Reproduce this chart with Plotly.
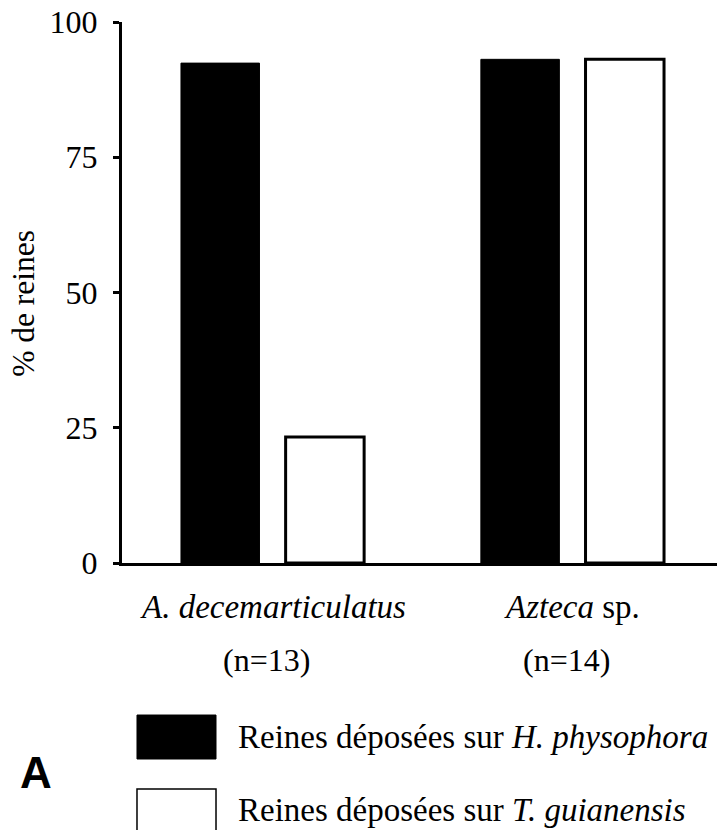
import plotly.graph_objects as go

# données
categories = ['A. decemarticulatus', 'Azteca sp.']
cat_labels = ['<i>A. decemarticulatus</i>', '<i>Azteca</i> sp.']
n_labels = ['(n=13)', '(n=14)']
h_physophora = [92.4, 93.1]
t_guianensis = [23.3, 93.1]
series_names = ['Reines déposées sur <i>H. physophora</i>',
                'Reines déposées sur <i>T. guianensis</i>']
y_ticks = [0, 25, 50, 75, 100]

serif = 'Liberation Serif, Times New Roman, serif'

fig = go.Figure()
fig.add_trace(go.Bar(x=categories, y=h_physophora, name=series_names[0],
                     marker=dict(color='black', line=dict(color='black', width=1))))
fig.add_trace(go.Bar(x=categories, y=t_guianensis, name=series_names[1],
                     marker=dict(color='white', line=dict(color='black', width=3))))

fig.update_layout(
    width=717, height=830,
    margin=dict(l=122, r=0, t=22, b=267),
    plot_bgcolor='white', paper_bgcolor='white',
    barmode='group', bargap=0.302, bargroupgap=0.25,
    showlegend=False,
    font=dict(family=serif, color='black', size=33),
)
fig.update_xaxes(range=[-0.502, 1.482], showticklabels=False, ticks='',
                 showline=True, linecolor='black', linewidth=3, showgrid=False)
fig.update_yaxes(range=[0, 100], tickvals=y_ticks, ticks='outside', ticklen=6,
                 tickwidth=3, tickcolor='black', showline=True, linecolor='black',
                 linewidth=3, showgrid=False, zeroline=False,
                 tickfont=dict(family=serif, size=32), ticklabelstandoff=9)

# étiquettes des catégories
for cat, lab, n in zip(categories, cat_labels, n_labels):
    fig.add_annotation(x=cat, xref='x', y=-0.0813, yref='paper', text=lab,
                       showarrow=False, font=dict(size=33), xanchor='center', yanchor='middle')
    fig.add_annotation(x=cat, xref='x', y=-0.179, yref='paper', text=n,
                       showarrow=False, font=dict(size=32), xanchor='center', yanchor='middle',
                       xshift=-6)

# titre de l'axe y
fig.add_annotation(x=-0.1647, y=0.479, xref='paper', yref='paper', text='% de reines',
                   textangle=-90, showarrow=False, font=dict(size=31.5),
                   xanchor='center', yanchor='middle')

# légende faite à la main
fig.add_shape(type='rect', xref='paper', yref='paper', x0=0.0252, x1=0.158,
              y0=-0.3623, y1=-0.281, fillcolor='black', line=dict(color='black', width=1))
fig.add_shape(type='rect', xref='paper', yref='paper', x0=0.0252, x1=0.158,
              y0=-0.499, y1=-0.4177, fillcolor='white', line=dict(color='black', width=1.5))
for name, ypos in zip(series_names, [-0.3216, -0.4566]):
    fig.add_annotation(x=0.1916, y=ypos, xref='paper', yref='paper', text=name,
                       showarrow=False, font=dict(size=33), xanchor='left', yanchor='middle')

fig.add_annotation(x=-0.1445, y=-0.388, xref='paper', yref='paper', text='<b>A</b>',
                   showarrow=False, font=dict(family='Liberation Sans, Arial, sans-serif', size=44),
                   xanchor='center', yanchor='middle')

# pas de marge autour de la page, pas de barre d'outils
fig.write_html('out.html', config={'displayModeBar': False},
               post_script="document.body.style.margin='0';")
